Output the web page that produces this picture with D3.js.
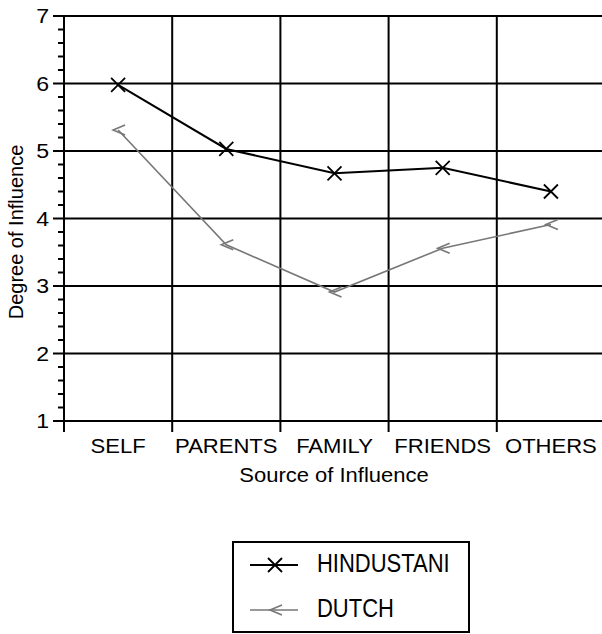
<!DOCTYPE html>
<html>
<head>
<meta charset="utf-8">
<script src="https://cdn.jsdelivr.net/npm/d3@7"></script>
<style>
  body { margin: 0; background: #fff; }
  text { font-family: "Liberation Sans", Arial, sans-serif; fill: #000; }
</style>
</head>
<body>
<div id="chart"></div>
<script>
// chart data
var categories = ["SELF", "PARENTS", "FAMILY", "FRIENDS", "OTHERS"];
var hindustani = [5.98, 5.03, 4.67, 4.75, 4.40];
var dutch = [5.31, 3.61, 2.91, 3.56, 3.91];
var yTicks = [1, 2, 3, 4, 5, 6, 7];
var seriesNames = ["HINDUSTANI", "DUTCH"];

var svgWidth = 602;
var svgHeight = 634;
var plot = { left: 64, right: 605, top: 16, bottom: 421 };

var svg = d3.select("#chart")
    .append("svg")
    .attr("width", svgWidth)
    .attr("height", svgHeight);

var xScale = d3.scaleBand()
    .domain(categories)
    .range([plot.left, plot.right]);
var yScale = d3.scaleLinear()
    .domain([1, 7])
    .range([plot.bottom, plot.top]);

// text stretched a bit, like the scanned original
function addText(x, y, str, size, anchor, rotate, sx, sy) {
    var g = svg.append("g")
        .attr("transform", `translate(${x}, ${y})` + (rotate ? " rotate(-90)" : "") +
            ` scale(${sx || 1.05}, ${sy || 1})`);
    g.append("text")
        .attr("text-anchor", anchor)
        .style("font-size", size + "px")
        .text(str);
}

// horizontal grid lines
svg.append("g")
    .selectAll("line")
    .data(yTicks)
    .enter()
    .append("line")
    .attr("x1", plot.left - 11)
    .attr("x2", plot.right)
    .attr("y1", d => yScale(d))
    .attr("y2", d => yScale(d))
    .attr("stroke", "#000")
    .attr("stroke-width", 2);

// minor ticks on y axis
var minor = d3.range(1, 7.001, 0.2).filter(v => Math.abs(v - Math.round(v)) > 0.01);
svg.append("g")
    .selectAll("line")
    .data(minor)
    .enter()
    .append("line")
    .attr("x1", plot.left - 6)
    .attr("x2", plot.left)
    .attr("y1", d => yScale(d))
    .attr("y2", d => yScale(d))
    .attr("stroke", "#000")
    .attr("stroke-width", 2);

// vertical lines at band edges
var edges = categories.map(c => xScale(c));
svg.append("g")
    .selectAll("line")
    .data(edges)
    .enter()
    .append("line")
    .attr("x1", d => d)
    .attr("x2", d => d)
    .attr("y1", plot.top)
    .attr("y2", plot.bottom + 11)
    .attr("stroke", "#000")
    .attr("stroke-width", 2);

// y tick labels
yTicks.forEach(function(t) {
    addText(49, yScale(t) + 7, t, 21, "end", false, 1.1);
});

// category labels
categories.forEach(function(c) {
    addText(xScale(c) + xScale.bandwidth() / 2, 453, c, 21, "middle");
});

// axis titles
addText(334, 482, "Source of Influence", 20, "middle", false, 1.1);
addText(23, 232, "Degree of Influence", 20, "middle", true, 1.0);

var xPos = (d, i) => xScale(categories[i]) + xScale.bandwidth() / 2;
var line = d3.line()
    .x(xPos)
    .y(d => yScale(d));

// dutch line
svg.append("path")
    .datum(dutch)
    .attr("d", line)
    .attr("fill", "none")
    .attr("stroke", "#777")
    .attr("stroke-width", 1.6);
svg.append("g")
    .selectAll("path")
    .data(dutch)
    .enter()
    .append("path")
    .attr("transform", (d, i) => `translate(${xPos(d, i)}, ${yScale(d)})`)
    .attr("d", "M7,-5L-5,0L7,5")
    .attr("fill", "none")
    .attr("stroke", "#777")
    .attr("stroke-width", 1.6);

// hindustani line
svg.append("path")
    .datum(hindustani)
    .attr("d", line)
    .attr("fill", "none")
    .attr("stroke", "#000")
    .attr("stroke-width", 2);
svg.append("g")
    .selectAll("path")
    .data(hindustani)
    .enter()
    .append("path")
    .attr("transform", (d, i) => `translate(${xPos(d, i)}, ${yScale(d)})`)
    .attr("d", "M-7,-7L7,7M-7,7L7,-7")
    .attr("fill", "none")
    .attr("stroke", "#000")
    .attr("stroke-width", 1.8);

// legend
var legend = svg.append("g");
legend.append("rect")
    .attr("x", 233)
    .attr("y", 542)
    .attr("width", 236)
    .attr("height", 90)
    .attr("fill", "none")
    .attr("stroke", "#000")
    .attr("stroke-width", 2);
legend.append("line")
    .attr("x1", 250).attr("x2", 298)
    .attr("y1", 565).attr("y2", 565)
    .attr("stroke", "#000").attr("stroke-width", 2);
legend.append("path")
    .attr("transform", "translate(275, 565)")
    .attr("d", "M-7,-7L7,7M-7,7L7,-7")
    .attr("fill", "none").attr("stroke", "#000").attr("stroke-width", 1.8);
legend.append("line")
    .attr("x1", 250).attr("x2", 298)
    .attr("y1", 610).attr("y2", 610)
    .attr("stroke", "#777").attr("stroke-width", 1.6);
legend.append("path")
    .attr("transform", "translate(275, 610)")
    .attr("d", "M7,-5L-5,0L7,5")
    .attr("fill", "none").attr("stroke", "#777").attr("stroke-width", 1.6);
seriesNames.forEach(function(n, i) {
    addText(317, 572 + i * 45, n, 22, "start", false, 1.0, 1.15);
});
</script>
</body>
</html>
